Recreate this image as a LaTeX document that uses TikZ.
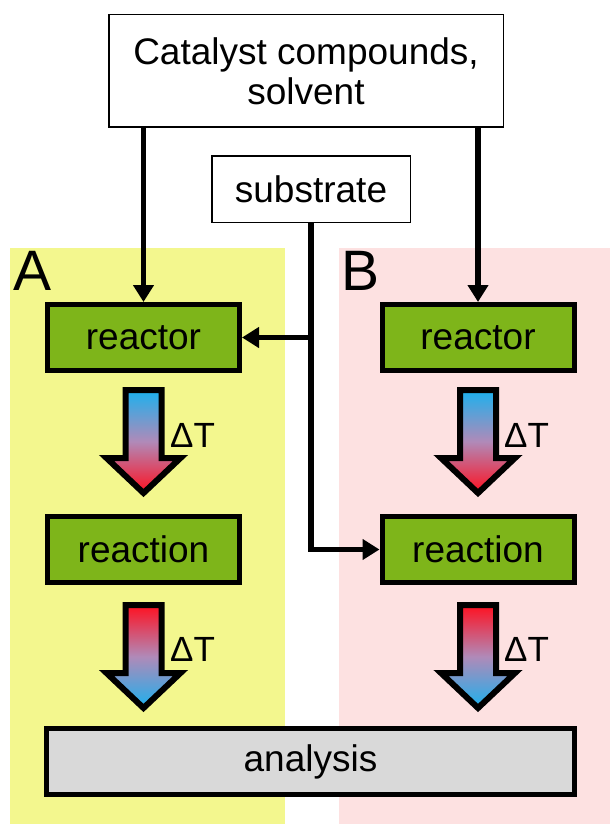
\documentclass[tikz,border=0pt]{standalone}
\usepackage{fontspec}
\setmainfont{Liberation Sans}
\usetikzlibrary{arrows.meta,calc}
\definecolor{panelA}{HTML}{F3F78E}
\definecolor{panelB}{HTML}{FDE1E1}
\definecolor{boxgreen}{HTML}{7EB51A}
\definecolor{boxgray}{HTML}{D9D9D9}
\definecolor{heathot}{HTML}{FF1020}
\definecolor{heatcold}{HTML}{1BB1EE}
\definecolor{heatmid}{HTML}{B08AB8}
\newcommand\heatarrow[4]{%
  \shadedraw[line width=6pt, line join=miter, top color=#3, bottom color=#4, middle color=heatmid]
    (#1-18,#2) -- (#1+18,#2) -- (#1+18,#2+68) -- (#1+37,#2+68) -- (#1,#2+103)
    -- (#1-37,#2+68) -- (#1-18,#2+68) -- cycle;}
\begin{document}
\begin{tikzpicture}[x=1pt,y=-1pt,
  txt/.style={font=\fontsize{37}{40}\selectfont},
  inbox/.style={draw, line width=1.5pt, fill=white, inner sep=0pt, txt, align=center},
  greenbox/.style={draw, line width=5pt, fill=boxgreen, minimum width=192pt, minimum height=66pt, inner sep=0pt, txt},
  graybox/.style={draw, line width=5pt, fill=boxgray, minimum width=528pt, minimum height=66pt, inner sep=0pt, txt},
  conn/.style={line width=5.5pt, -{Triangle[length=17pt,width=20pt]}},
  panellabel/.style={font=\fontsize{57}{57}\selectfont, anchor=base west, inner sep=0pt},
  dtlabel/.style={font=\fontsize{35}{35}\selectfont, anchor=base west, inner sep=0pt}]
\useasboundingbox (0,0) rectangle (610,824);
% panels
\fill[panelA] (10,248) rectangle (285,824);
\fill[panelB] (339,248) rectangle (610,824);
\node[panellabel] (labA) at (13,290) {A};
\node[panellabel] (labB) at (341,290) {B};
% boxes
\node[inbox, minimum width=394.5pt, minimum height=112.5pt] (cat) at (306,71) {Catalyst compounds,\\solvent};
\node[inbox, minimum width=198.5pt, minimum height=66.5pt] (sub) at (311,189) {substrate};
\node[greenbox] (reactorA) at (143.5,337.5) {reactor};
\node[greenbox] (reactorB) at (478,337.5) {reactor};
\node[greenbox] (reactionA) at (143.5,549.5) {reaction};
\node[greenbox] (reactionB) at (478,549.5) {reaction};
\node[graybox] (analysis) at (310.5,761.5) {analysis};
% heat arrows
\heatarrow{143.5}{390}{heatcold}{heathot}
\heatarrow{478}{390}{heatcold}{heathot}
\heatarrow{143.5}{605}{heathot}{heatcold}
\heatarrow{478}{605}{heathot}{heatcold}
\node[dtlabel] (dtA1) at (170,447) {ΔT};
\node[dtlabel] (dtB1) at (504,447) {ΔT};
\node[dtlabel] (dtA2) at (170,661) {ΔT};
\node[dtlabel] (dtB2) at (504,661) {ΔT};
% connectors
\draw[conn] (cat.south -| reactorA.north) -- (reactorA.north);
\draw[conn] (cat.south -| reactorB.north) -- (reactorB.north);
\coordinate (jA) at (sub.south |- reactorA.east);
\draw[conn] (sub.south) |- (reactionB.west);
\draw[conn] (jA) -- (reactorA.east);
\end{tikzpicture}
\end{document}
